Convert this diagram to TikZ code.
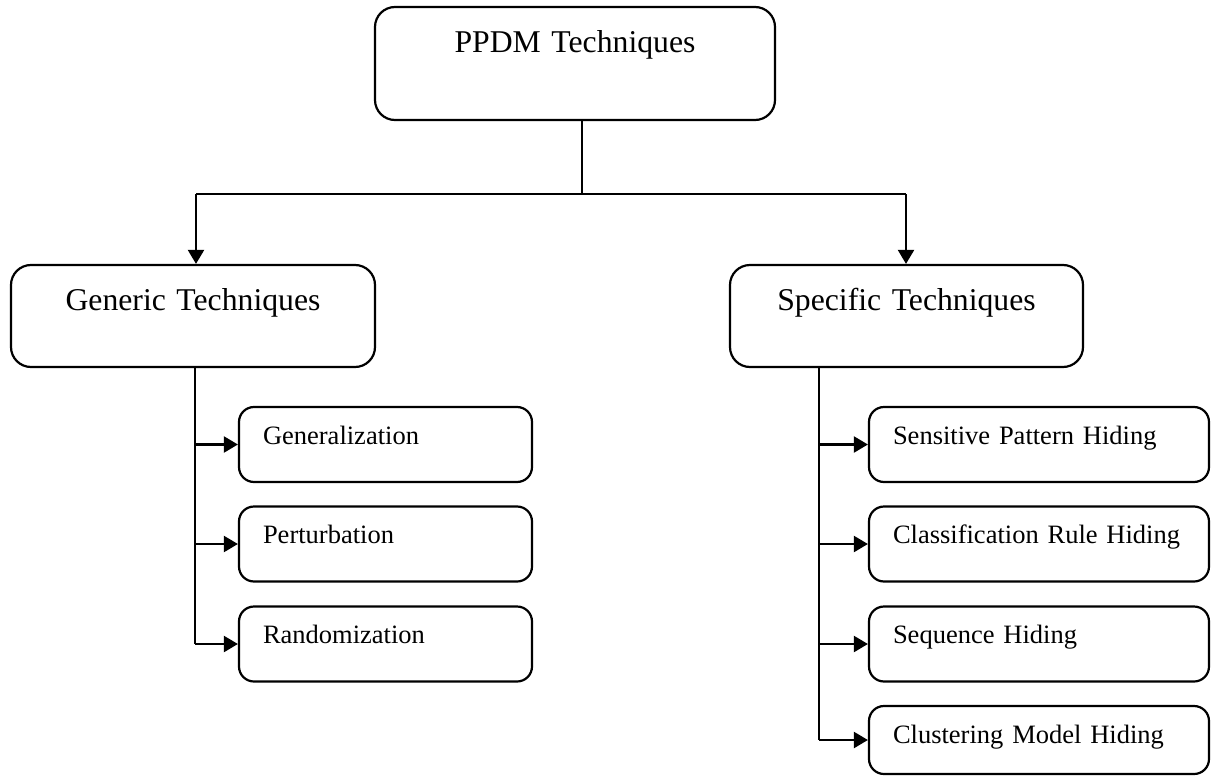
\documentclass[tikz,border=0pt]{standalone}
\usepackage{fontspec}
\setmainfont{Liberation Serif}
\usetikzlibrary{arrows.meta}
\begin{document}
\begin{tikzpicture}[x=1pt,y=-1pt,
  line width=2.2pt,
  bigbox/.style={draw, rounded corners=20pt, inner sep=0pt, align=center,
    font=\fontsize{31.7}{38}\selectfont},
  smallbox/.style={draw, rounded corners=15pt, inner ysep=0pt, inner xsep=24pt,
    align=left, text height=37pt, text depth=38pt,
    font=\fontsize{26.5}{32}\selectfont},
  leftbox/.style={smallbox, text width=245pt},
  rightbox/.style={smallbox, text width=292pt},
  link/.style={-{Triangle[length=14pt,width=16pt]}},
]
\useasboundingbox (0,0) rectangle (1218,776);

% top level
\node[bigbox, text width=400pt, text height=46pt, text depth=67pt]
  (ppdm) at (575,63.5) {PPDM Techniques};

% second level
\node[bigbox, text width=364pt, text height=45pt, text depth=57pt]
  (generic) at (193,316) {Generic Techniques};
\node[bigbox, text width=353pt, text height=45pt, text depth=57pt]
  (specific) at (906.5,316) {Specific Techniques};

% generic techniques
\node[leftbox] (gen)  at (385.5,444.5) {Generalization};
\node[leftbox] (pert) at (385.5,544)   {Perturbation};
\node[leftbox] (rand) at (385.5,644)   {Randomization};

% specific techniques
\node[rightbox] (sph) at (1039,444.5) {Sensitive Pattern Hiding};
\node[rightbox] (crh) at (1039,544)   {Classification Rule Hiding};
\node[rightbox] (sqh) at (1039,644)   {Sequence Hiding};
\node[rightbox, text depth=31pt] (cmh) at (1039,740) {Clustering Model Hiding};

% junctions of the tree
\coordinate (mid) at (582,194);
\coordinate (lj)  at (196,194);
\coordinate (rj)  at (906,194);
\coordinate (lt)  at (195,0);
\coordinate (rt)  at (819,0);

% top split
\draw (ppdm.south -| mid) -- (mid);
\draw (lj) -- (rj);
\draw[link] (lj) -- (generic.north -| lj);
\draw[link] (rj) -- (specific.north -| rj);

% left trunk and branches
\draw (generic.south -| lt) -- (lt |- rand.west);
\draw[link] (lt |- gen.west)  -- (gen.west);
\draw[link] (lt |- pert.west) -- (pert.west);
\draw[link] (lt |- rand.west) -- (rand.west);

% right trunk and branches
\draw (specific.south -| rt) -- (rt |- cmh.west);
\draw[link] (rt |- sph.west) -- (sph.west);
\draw[link] (rt |- crh.west) -- (crh.west);
\draw[link] (rt |- sqh.west) -- (sqh.west);
\draw[link] (rt |- cmh.west) -- (cmh.west);
\end{tikzpicture}
\end{document}
